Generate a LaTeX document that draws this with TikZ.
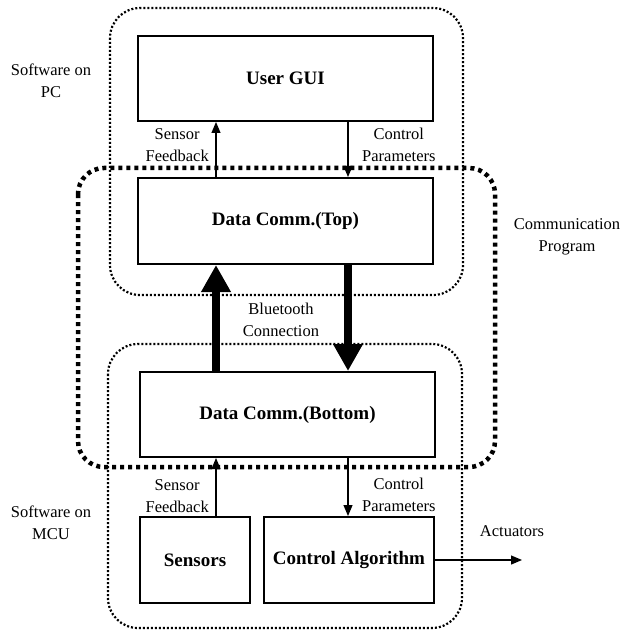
\documentclass[tikz,border=0pt]{standalone}
\usepackage{fontspec}
\setmainfont{Liberation Serif}
\usetikzlibrary{arrows.meta,calc}

\begin{document}
\begin{tikzpicture}[x=1pt,y=-1pt,
  blk/.style={draw,line width=2pt,font=\fontsize{19}{22}\selectfont\bfseries,inner sep=0pt},
  lbl/.style={font=\fontsize{16.5}{22}\selectfont,align=center,inner sep=0pt},
  thin/.style={-{Triangle[width=9pt,length=11pt]},line width=1.2pt},
  fat/.style={-{Triangle[width=28pt,length=27pt]},line width=8pt},
  fine/.style={line width=2.2pt,dash pattern=on 2pt off 2pt,rounded corners=30pt},
  heavy/.style={line width=4.5pt,dash pattern=on 4pt off 4pt,rounded corners=26pt}]
\useasboundingbox (0,0) rectangle (624,631);
% software groups and communication program
\draw[fine](110,8) rectangle (463,295);
\draw[fine](108,344) rectangle (462,628);
\draw[heavy](78,168) rectangle (495,467);
% blocks
\node[blk,minimum width=295pt,minimum height=85pt] (gui) at (285.5,78.5) {User GUI};
\node[blk,minimum width=295pt,minimum height=86pt] (top) at (285.5,221) {Data Comm.(Top)};
\node[blk,minimum width=295pt,minimum height=85pt] (bot) at (287.5,414.5) {Data Comm.(Bottom)};
\node[blk,minimum width=110pt,minimum height=86pt] (sens) at (195,560) {Sensors};
\node[blk,minimum width=170pt,minimum height=86pt] (ctrl) at (349,560) {Control Algorithm};
\coordinate (lft) at (216,0);
\coordinate (rgt) at (348,0);
\coordinate (out) at (522,560);
% connectors
\draw[thin](top.north -| lft) -- (gui.south -| lft);
\draw[thin](gui.south -| rgt) -- (top.north -| rgt);
\draw[fat](bot.north -| lft) -- (top.south -| lft);
\draw[fat](top.south -| rgt) -- (bot.north -| rgt);
\draw[thin](sens.north -| lft) -- (bot.south -| lft);
\draw[thin](bot.south -| rgt) -- (ctrl.north -| rgt);
\draw[thin](ctrl.east) -- (out);
% labels
\node[lbl] (pc) at (51,81) {Software on\\PC};
\node[lbl] (mcu) at (51,523) {Software on\\MCU};
\node[lbl] (comm) at (567,237) {Communication\\Program};
\node[lbl] (bt) at (281,320) {Bluetooth\\Connection};
\node[lbl,anchor=east] (fb1) at (209,145) {Sensor\\Feedback};
\node[lbl,anchor=west] (cp1) at (362,145) {Control\\Parameters};
\node[lbl,anchor=east] (fb2) at (209,496) {Sensor\\Feedback};
\node[lbl,anchor=west] (cp2) at (362,495) {Control\\Parameters};
\node[lbl] (act) at (512,531) {Actuators};
\end{tikzpicture}
\end{document}
